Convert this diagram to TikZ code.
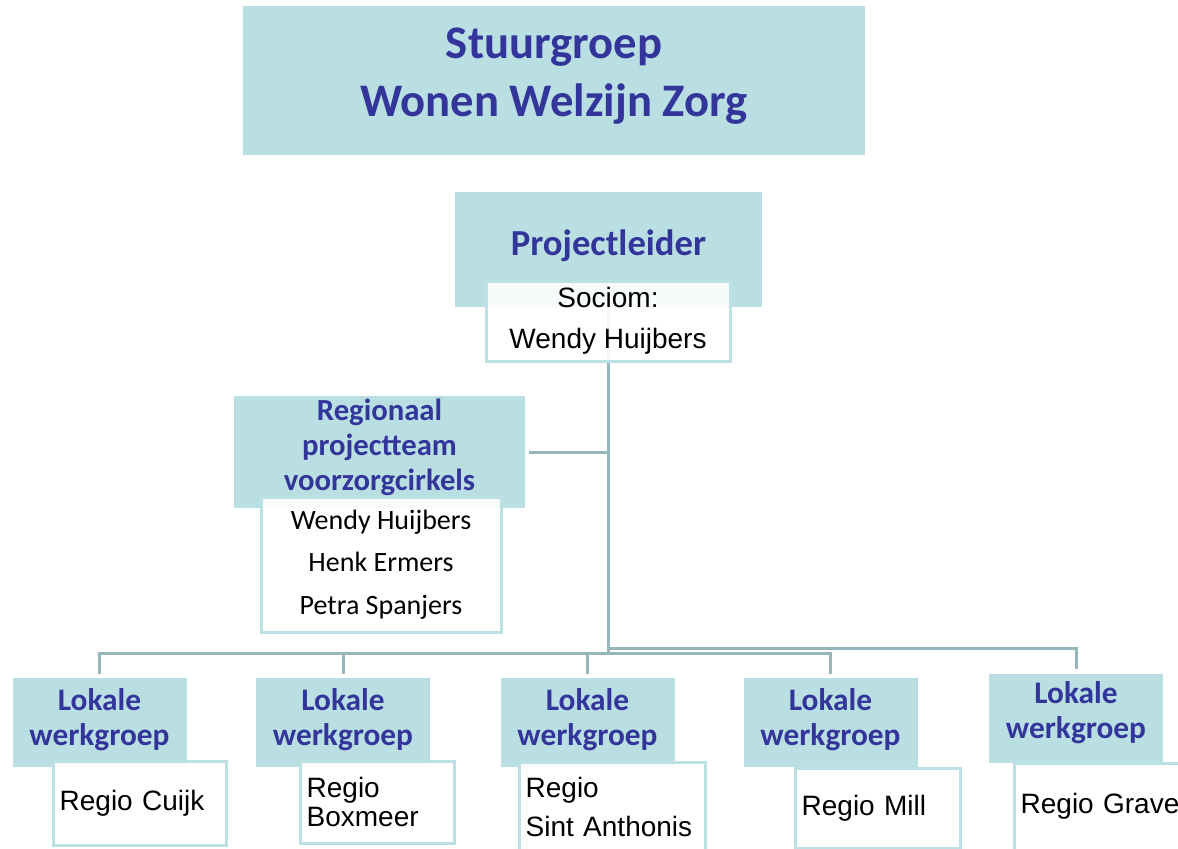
\documentclass[tikz,border=0pt]{standalone}
\usepackage{fontspec}
\setmainfont{Carlito}
\newfontfamily\arial{Liberation Sans}

\definecolor{kopvlak}{HTML}{B9DFE3}
\definecolor{kopblauw}{HTML}{33359A}
\definecolor{rand}{HTML}{BCE1E5}
\definecolor{lijngrijs}{HTML}{97B6BB}

\pgfdeclarelayer{achtergrond}
\pgfsetlayers{achtergrond,main}

\tikzset{
    kop/.style={fill=kopvlak, inner sep=0pt},
    koptekst/.style={text=kopblauw, align=center, inner sep=0pt},
    naam/.style={draw=rand, line width=2.25pt, fill=white, fill opacity=0.9, text opacity=1, text=black, inner sep=0pt},
    regio/.style={naam, align=left, inner xsep=5pt, font=\arial\fontsize{21}{22}\selectfont},
    lijn/.style={draw=lijngrijs, line width=2.25pt, line cap=rect}
}

\begin{document}
\begin{tikzpicture}[x=0.75pt, y=-0.75pt]
    \clip (0,0) rectangle (1178,849);

    % Stuurgroep
    \node[kop, minimum width=466.5pt, minimum height=111.75pt] (stuur) at (554,80.5) {};
    \node[koptekst, font=\fontsize{35}{43.5}\selectfont\bfseries] (stuurtekst) at ([yshift=3pt]stuur.center) {Stuurgroep\\Wonen Welzijn Zorg};

    % Projectleider
    \node[kop, minimum width=230.25pt, minimum height=86.25pt] (proj) at (608.5,249.5) {};
    \node[koptekst, font=\fontsize{27.5}{33}\selectfont\bfseries] (projtekst) at ([yshift=3pt]proj.center) {Projectleider};
    \node[naam, minimum width=183pt, minimum height=60pt, align=center, font=\arial\fontsize{21}{30.75}\selectfont] (sociom) at (608,321) {Sociom:\\Wendy Huijbers};

    % Regionaal projectteam
    \node[kop, minimum width=218.25pt, minimum height=84pt] (regio) at (379.5,452) {};
    \node[koptekst, font=\fontsize{23}{26.25}\selectfont\bfseries] (regiotekst) at ([yshift=3.75pt]regio.center) {Regionaal\\projectteam\\voorzorgcirkels};
    \node[naam, minimum width=180pt, minimum height=101.25pt, align=center, font=\fontsize{21}{32}\selectfont] (team) at (381,564.5) {Wendy Huijbers\\Henk Ermers\\Petra Spanjers};

    % Lokale werkgroepen
    \foreach \i/\x/\y/\s in {1/99.5/722.5/2.25, 2/343/722.5/2.25, 3/587.5/722.5/2.25, 4/830.5/722.5/2.25, 5/1076/718/3.75} {
        \node[kop, minimum width=130.5pt, minimum height=66.75pt] (lw\i) at (\x,\y) {};
        \node[koptekst, font=\fontsize{23.5}{26.25}\selectfont\bfseries] (lwtekst\i) at ([yshift=\s pt]lw\i.center) {Lokale\\werkgroep};
    }

    % Regio's
    \foreach \i/\x/\y/\w/\h/\tekst in {1/139.5/803/173/84/{Regio Cuijk}, 2/377/802/154/82/{Regio\\Boxmeer}, 3/612/807/186/90/{Regio\\[7pt]Sint Anthonis}, 4/877.5/808/165/80/{Regio Mill}, 5/1102/806.5/176/87/{Regio Grave}} {
        \pgfmathsetmacro\tb{0.75*\w-10}
        \node[regio, text width=\tb pt, minimum width=\w*0.75pt, minimum height=\h*0.75pt] (rg\i) at (\x,\y) {\tekst};
    }

    % Verbindingen
    \coordinate (bus) at (608,653);
    \coordinate (bus2) at (608,648);
    \begin{pgfonlayer}{achtergrond}
        \draw[lijn] (proj.south) -- (proj.south |- bus); % stam
        \draw[lijn] ([xshift=4pt]regio.east) -- (regio.east -| proj.south);
        \draw[lijn] (lw1.north |- bus) -- (lw4.north |- bus);
        \draw[lijn] (proj.south |- bus2) -- (lw5.north |- bus2) -- ([yshift=4pt]lw5.north);
        \foreach \i in {1,...,4} {
            \draw[lijn] (lw\i.north |- bus) -- ([yshift=4pt]lw\i.north);
        }
    \end{pgfonlayer}
\end{tikzpicture}
\end{document}
